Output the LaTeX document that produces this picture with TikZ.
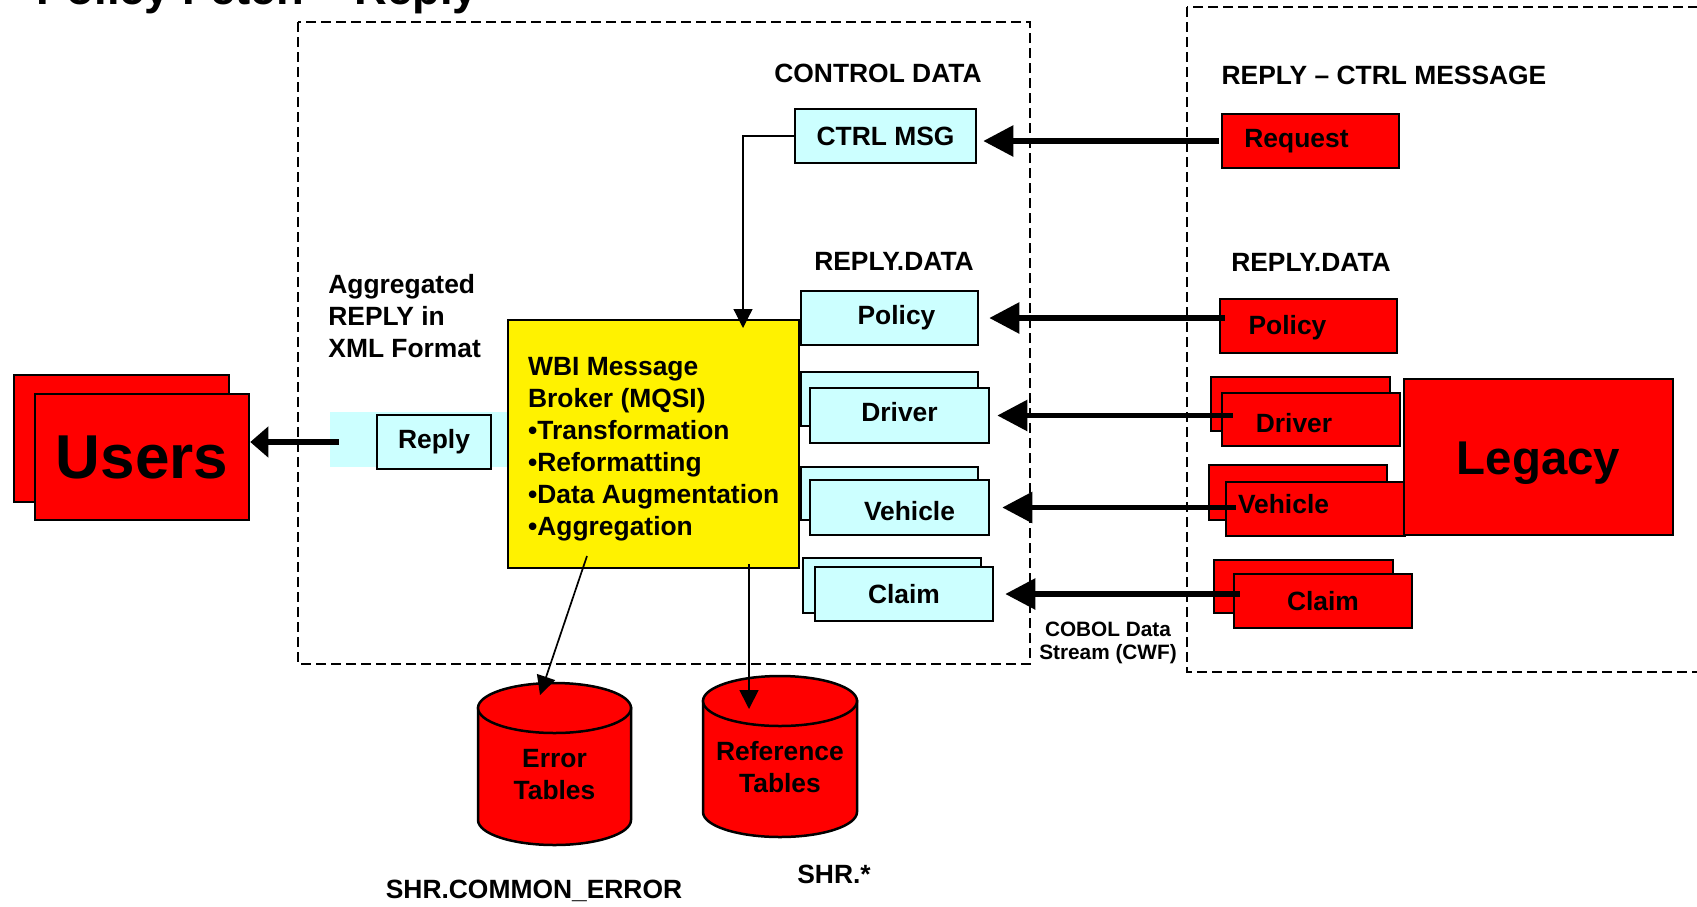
\documentclass[tikz,border=0pt]{standalone}
\usepackage{fontspec}
\setmainfont{Liberation Sans}
\usetikzlibrary{arrows.meta, fit}
\definecolor{paleblue}{HTML}{CCFFFF}

\begin{document}
\begin{tikzpicture}[x=0.5pt, y=-0.5pt,
	every node/.style={font=\bfseries\fontsize{13.2}{16}\selectfont}]

\useasboundingbox (0,0) rectangle (1697,906);
\clip (0,0) rectangle (1697,906);

\tikzstyle{zone line} = [line width=.75pt, dash pattern=on 5pt off 2.5pt]
\tikzstyle{cyan box} = [draw=black, fill=paleblue, line width=1.25pt, inner sep=0pt]
\tikzstyle{red box} = [draw=black, fill=red, line width=1.25pt, inner sep=0pt]
\tikzstyle{tank} = [draw=black, fill=red, line width=1.25pt]
\tikzstyle{data arrow} = [line width=2.75pt, -{Triangle[length=15pt, width=15pt]}]
\tikzstyle{thin arrow} = [line width=.85pt, -{Triangle[length=9.5pt, width=9.5pt]}]
\tikzstyle{caption} = [inner sep=0pt, anchor=base]

% title

\node [anchor=base west, inner sep=0pt, font=\bfseries\fontsize{22.7}{26}\selectfont]
	(title) at (36,4) {Policy Fetch – Reply};

% zones

\draw [zone line] (298,22) rectangle (1030,664);
\draw [zone line] (1187,7) rectangle (1760,672);

% users

\node [red box, fit={(14,375) (229,502)}] (usersback) {};
\node [red box, fit={(35,394) (249,520)},
	label={[font=\bfseries\fontsize{31}{31}\selectfont]center:Users}] (users) {};

% reply to users

\fill [paleblue] (330,412) rectangle (507,467);
\node [cyan box, fit={(377,415) (491,469)}, label=center:Reply] (reply) {};
\node [inner sep=0pt, anchor=north west, align=left] (aggr) at (328,274)
	{Aggregated\\REPLY in\\XML Format};

% broker

\node [draw=black, fill=yellow, line width=1.25pt, inner sep=0pt, fit={(508,320) (799,568)},
	label={[anchor=north west, align=left, inner sep=0pt, xshift=10.5pt, yshift=-19pt]north west:
	WBI Message\\Broker (MQSI)\\•Transformation\\•Reformatting\\•Data Augmentation\\•Aggregation}]
	(broker) {};

% control data

\node [caption] (ctrltitle) at (878,82) {CONTROL DATA};
\node [cyan box, fit={(795,109) (976,163)}, label=center:CTRL MSG] (ctrl) {};

\coordinate (brokerin) at (743,328);
\draw [thin arrow, line width=.6pt] (ctrl.west) -| (brokerin);

% reply data, broker side

\node [caption] (datatitle) at (894,270) {REPLY.DATA};
\node [cyan box, fit={(801,291) (978,345)}, label={[xshift=3.5pt]center:Policy}] (pol) {};

\node [cyan box, fit={(801,372) (978,426)}] (drvback) {};
\node [cyan box, fit={(810,388) (989,443)}, label={[yshift=1.75pt]center:Driver}] (drv) {};

\node [cyan box, fit={(801,467) (978,520)}] (vehback) {};
\node [cyan box, fit={(810,480) (989,535)}, label={[xshift=5pt, yshift=-2pt]center:Vehicle}] (veh) {};

\node [cyan box, fit={(803,558) (981,613)}] (clmback) {};
\node [cyan box, fit={(815,567) (993,621)}, label=center:Claim] (clm) {};

% legacy side

\node [caption] (reqtitle) at (1384,84) {REPLY – CTRL MESSAGE};
\node [red box, fit={(1222,114) (1399,168)}, label={[xshift=-7pt]center:Request}] (req) {};

\node [caption] (legdatatitle) at (1311,271) {REPLY.DATA};
\node [red box, fit={(1220,299) (1397,353)}, label={[xshift=-10.5pt, yshift=-1pt]center:Policy}] (polred) {};

\node [red box, fit={(1211,377) (1390,431)}] (drvredback) {};
\node [red box, fit={(1222,393) (1400,446)}, label={[xshift=-8.5pt, yshift=-1.75pt]center:Driver}] (drvred) {};

\node [red box, fit={(1209,465) (1387,520)}] (vehredback) {};
\node [red box, fit={(1226,482) (1405,536)}, label={[xshift=-16pt, yshift=2.5pt]center:Vehicle}] (vehred) {};

\node [red box, fit={(1214,560) (1393,613)}] (clmredback) {};
\node [red box, fit={(1234,574) (1412,628)}, label=center:Claim] (clmred) {};

\node [red box, fit={(1404,379) (1673,535)},
	label={[yshift=-3pt, font=\bfseries\fontsize{23.7}{24}\selectfont]center:Legacy}] (legacy) {};

\node [inner sep=0pt, anchor=north, align=center, font=\bfseries\fontsize{10.4}{11.5}\selectfont]
	(cobol) at (1108,622) {COBOL Data\\Stream (CWF)};

% data flow

\draw [data arrow, shorten <=1pt, shorten >=3pt] (req.west) -- (req.west -| ctrl.east);
\draw [data arrow, shorten <=-3pt, shorten >=5pt] (polred.west |- pol.east) -- (pol.east);
\draw [data arrow, shorten <=-6pt, shorten >=3.5pt] (drvred.west |- drv.east) -- (drv.east);
\draw [data arrow, shorten <=-5.5pt, shorten >=6pt] (vehred.west |- veh.east) -- (veh.east);
\draw [data arrow, shorten <=-3.5pt, shorten >=5.5pt] (clmred.west |- clm.east) -- (clm.east);

\draw [data arrow, -{Triangle[length=9pt, width=15pt]}, shorten <=18.5pt]
	(reply.west) -- (reply.west -| users.east);

% tables

\filldraw [tank] (478,708) -- (478,820) arc [start angle=180, end angle=0, x radius=76.5, y radius=25] -- (631,708) -- cycle;
\filldraw [tank] (554.5,708) ellipse [x radius=76.5, y radius=25];
\node [align=center] (errtext) at (554.5,775) {Error\\Tables};

\filldraw [tank] (703,701) -- (703,812) arc [start angle=180, end angle=0, x radius=77, y radius=25] -- (857,701) -- cycle;
\filldraw [tank] (780,701) ellipse [x radius=77, y radius=25];
\node [align=center] (reftext) at (780,767) {Reference\\Tables};

\coordinate (errout) at (587,556);
\coordinate (errtop) at (540,695);
\coordinate (refout) at (749,564);
\coordinate (reftop) at (749,709);

\draw [thin arrow] (errout) -- (errtop);
\draw [thin arrow] (refout) -- (reftop);

\node [caption] (errname) at (534,898) {SHR.COMMON\_ERROR};
\node [caption] (refname) at (834,883) {SHR.*};

\end{tikzpicture}
\end{document}
